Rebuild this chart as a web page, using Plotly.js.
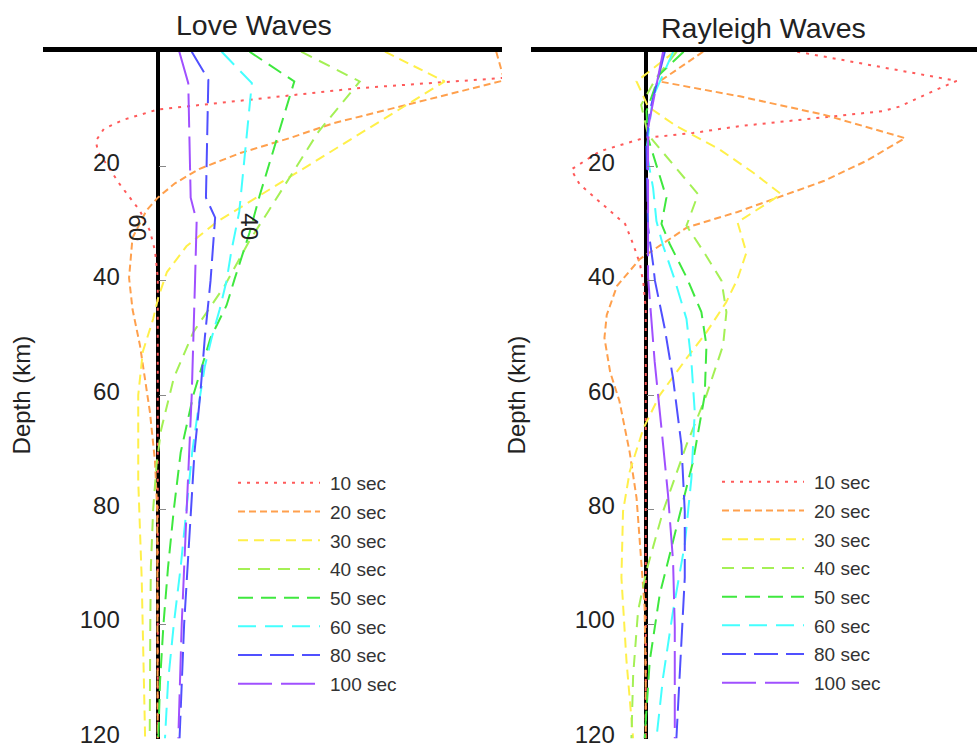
<!DOCTYPE html>
<html>
<head>
<meta charset="utf-8">
<script src="https://cdn.plot.ly/plotly-3.0.1.min.js"></script>
<style>html,body{margin:0;padding:0;background:#fff;}#chart{width:977px;height:749px;}</style>
</head>
<body>
<div id="chart"></div>
<script>
// ---------- data ----------
const periods = ['10 sec','20 sec','30 sec','40 sec','50 sec','60 sec','80 sec','100 sec'];
const depthTicks = [20,40,60,80,100,120];

// Love waves (depth in km, relative amplitude)
const love10_depth = [0,4.6,6.4,8.4,9.3,10.1,11.9,13.5,15.6,17.5,19.7,23.2,27.8,31.3,34.8,39.4,45,120];
const love10_amp   = [3.6,3.0,1.73,0.78,0.37,0.0,-0.30,-0.47,-0.54,-0.52,-0.445,-0.33,-0.155,-0.068,-0.024,0.0,0.0,0.0];
const love20_depth = [0,5.0,12.5,15.1,17.7,20.5,23,25.5,27.8,32.5,39.5,45,51.3,57,63,71.6,80,120];
const love20_amp   = [2.95,3.02,1.53,1.15,0.72,0.36,0.15,0.0,-0.10,-0.22,-0.25,-0.22,-0.155,-0.11,-0.068,-0.024,-0.005,0];
const love30_depth = [0,5.2,24,29.8,34,38.5,42.9,46.7,52.4,60,75,92,120];
const love30_amp   = [1.98,2.50,0.98,0.51,0.25,0.08,0.005,-0.04,-0.13,-0.17,-0.17,-0.14,-0.11];
const love40_depth = [0,5.2,14,23,28,33,41,49,57,66,72,80,90,100,120];
const love40_amp   = [1.25,1.76,1.40,1.12,0.96,0.80,0.58,0.31,0.14,0.03,-0.01,-0.04,-0.06,-0.065,-0.07];
const love50_depth = [0,5.2,25,31.6,39.7,44.3,50,60,70,80,90,100,110,120];
const love50_amp   = [0.80,1.19,0.89,0.80,0.67,0.60,0.46,0.31,0.20,0.14,0.09,0.05,0.02,0.005];
const love60_depth = [0,5.5,28,35,40,45,50,55,60,70,80,90,100,110,120];
const love60_amp   = [0.557,0.82,0.71,0.64,0.60,0.54,0.47,0.41,0.37,0.30,0.25,0.20,0.14,0.09,0.063];
const love80_depth = [0,4.9,25.5,29,40,50,60,70,80,90,100,110,120];
const love80_amp   = [0.296,0.441,0.42,0.50,0.46,0.41,0.37,0.32,0.29,0.26,0.23,0.21,0.19];
const love100_depth = [0,5.5,25.5,29.6,40,60,80,100,120];
const love100_amp   = [0.188,0.266,0.287,0.339,0.325,0.296,0.252,0.209,0.179];

// Rayleigh waves
const ray10_depth = [0,5.1,6.4,9.6,10.4,11.3,12.1,13.0,14.2,15.1,17.4,20.6,23.2,26.7,30.1,33.6,37.1,40.6,45,120];
const ray10_amp   = [1.32,2.71,2.56,2.21,2.06,1.63,1.25,0.82,0.41,-0.02,-0.40,-0.65,-0.575,-0.37,-0.18,-0.11,-0.05,-0.02,0,0];
const ray20_depth = [0,5.2,7.8,11,15.1,19.1,22.6,25.3,28,30.7,36.2,40.9,46,50,56,61,70,78,89,97,110,120];
const ray20_amp   = [0.50,0.12,0.82,1.55,2.26,1.92,1.55,1.17,0.80,0.36,-0.05,-0.25,-0.34,-0.36,-0.31,-0.23,-0.14,-0.08,-0.04,-0.01,0,0];
const ray30_depth = [0,5.2,9.6,13,17.1,21.1,24.9,29.8,35.1,39.7,43.8,49,53.6,60,65.8,73.3,80.3,91.9,106.4,120];
const ray30_amp   = [0.25,-0.08,0.02,0.267,0.645,0.935,1.18,0.80,0.877,0.80,0.70,0.53,0.355,0.122,-0.02,-0.139,-0.198,-0.212,-0.168,-0.11];
const ray40_depth = [0,4.6,9.3,14.5,24.9,30.4,34.8,40,45.5,51.3,60,68.7,80.3,90.7,97.7,109,120];
const ray40_amp   = [0.27,0.09,-0.04,0.02,0.456,0.355,0.50,0.66,0.703,0.674,0.529,0.355,0.151,0.006,-0.067,-0.11,-0.125];
const ray50_depth = [0,4.0,10.4,15.1,25.5,30.1,33.6,39.4,45.5,51.3,60,71.6,83.2,94.8,106.4,120];
const ray50_amp   = [0.33,0.12,0.006,0.02,0.18,0.137,0.209,0.355,0.485,0.529,0.514,0.412,0.267,0.122,0.035,-0.01];
const ray60_depth = [0,8,17.4,23.8,29.6,33.9,39.7,46.7,54.2,62.9,74.5,86.1,97.7,109.3,120];
const ray60_amp   = [0.24,0.06,0.006,0.064,0.093,0.151,0.25,0.355,0.398,0.427,0.398,0.34,0.238,0.151,0.093];
const ray80_depth = [0,10.4,16.2,30.7,37.1,40,48.4,57.1,68.7,80.3,91.9,103.5,120];
const ray80_amp   = [0.166,0.035,0.006,0.02,0.064,0.08,0.166,0.238,0.311,0.34,0.34,0.311,0.267];
const ray100_depth = [0,13.3,39.4,54.2,65.8,77.4,89,100.6,120];
const ray100_amp   = [0.151,0.02,0.02,0.078,0.137,0.194,0.238,0.253,0.253];

// ---------- styles ----------
const colors = ['#ff5a5a','#ffa04d','#fff04a','#a4f055','#3fe83f','#44ffff','#5050ff','#a050ff'];
const dashes = ['3px,6px','7px,4px','10px,6px','12px,8px','15px,8px,15px,8px','18px,9px','24px,8px','34px,9px'];

const loveD = [love10_depth,love20_depth,love30_depth,love40_depth,love50_depth,love60_depth,love80_depth,love100_depth];
const loveA = [love10_amp,love20_amp,love30_amp,love40_amp,love50_amp,love60_amp,love80_amp,love100_amp];
const rayD  = [ray10_depth,ray20_depth,ray30_depth,ray40_depth,ray50_depth,ray60_depth,ray80_depth,ray100_depth];
const rayA  = [ray10_amp,ray20_amp,ray30_amp,ray40_amp,ray50_amp,ray60_amp,ray80_amp,ray100_amp];

const traces = [];
periods.forEach((p,i)=>{
  traces.push({x: loveA[i], y: loveD[i], xaxis:'x', yaxis:'y', mode:'lines', name:p, legend:'legend',
    legendgroup:'L'+i, line:{color:colors[i], width:2, dash:dashes[i]}, hoverinfo:'skip'});
});
periods.forEach((p,i)=>{
  traces.push({x: rayA[i], y: rayD[i], xaxis:'x2', yaxis:'y2', mode:'lines', name:p, legend:'legend2',
    legendgroup:'R'+i, line:{color:colors[i], width:2, dash:dashes[i]}, hoverinfo:'skip'});
});

const W = 977, H = 749;
const fontFam = '"Liberation Sans", Arial, Helvetica, sans-serif';
const yTop = 1 - 51.7/H, yBot = 1 - 738.5/H;

function xax(dom, rng){
  return {domain:dom, range:rng, side:'top', showline:true, linewidth:5, linecolor:'#000',
    showticklabels:false, ticks:'', showgrid:false, zeroline:true, zerolinecolor:'#000', zerolinewidth:4, fixedrange:true};
}
function yax(pos, standoff, titleStandoff){
  return {domain:[yBot,yTop], range:[120,0], anchor:'free', position:pos, tickvals:depthTicks,
    ticks:'inside', ticklen:7, tickwidth:1, tickcolor:'#888', showline:false, zeroline:false, showgrid:false,
    ticklabelstandoff:standoff, ticklabelshift:4, ticklabeloverflow:'allow', tickfont:{size:24, color:'#222', family:fontFam},
    title:{text:'Depth (km)', font:{size:24, color:'#222', family:fontFam}, standoff:titleStandoff}, fixedrange:true};
}

const legendCommon = {bgcolor:'rgba(0,0,0,0)', borderwidth:0, font:{size:19, color:'#333', family:fontFam},
  itemwidth:87, xanchor:'left', yanchor:'top', tracegroupgap:1};

const layout = {
  width:W, height:H, margin:{l:0,r:0,t:0,b:0}, paper_bgcolor:'#fff', plot_bgcolor:'rgba(0,0,0,0)',
  showlegend:true,
  xaxis: Object.assign(xax([43/W, 502/W], [-1, 3]), {anchor:'y'}),
  xaxis2: Object.assign(xax([531/W, 1], [-1, 446/114.75 - 1]), {anchor:'y2'}),
  yaxis: yax(157.75/W, 38, 41),
  yaxis2: yax(645.75/W, 31, 41),
  legend: Object.assign({x:233/W, y:1-464/H}, legendCommon),
  legend2: Object.assign({x:717/W, y:1-463/H}, legendCommon),
  annotations:[
    {text:'Love Waves', xref:'paper', yref:'paper', x:253.5/W, y:1-25/H, showarrow:false, xanchor:'center', yanchor:'middle',
     font:{size:28.5, color:'#222', family:fontFam}},
    {text:'Rayleigh Waves', xref:'paper', yref:'paper', x:763/W, y:1-28/H, showarrow:false, xanchor:'center', yanchor:'middle',
     font:{size:28.5, color:'#222', family:fontFam}},
    {text:'60', xref:'x', yref:'y', x:-0.18, y:30.7, showarrow:false, textangle:90, font:{size:24, color:'#222', family:fontFam}},
    {text:'40', xref:'x', yref:'y', x:0.80, y:30.6, showarrow:false, textangle:90, font:{size:24, color:'#222', family:fontFam}}
  ]
};

Plotly.newPlot('chart', traces, layout, {staticPlot:true, displayModeBar:false}).then(gd=>{
  gd.querySelectorAll('.legendlines path').forEach(p=>p.setAttribute('d','M5,0h82'));
});
</script>
</body>
</html>
